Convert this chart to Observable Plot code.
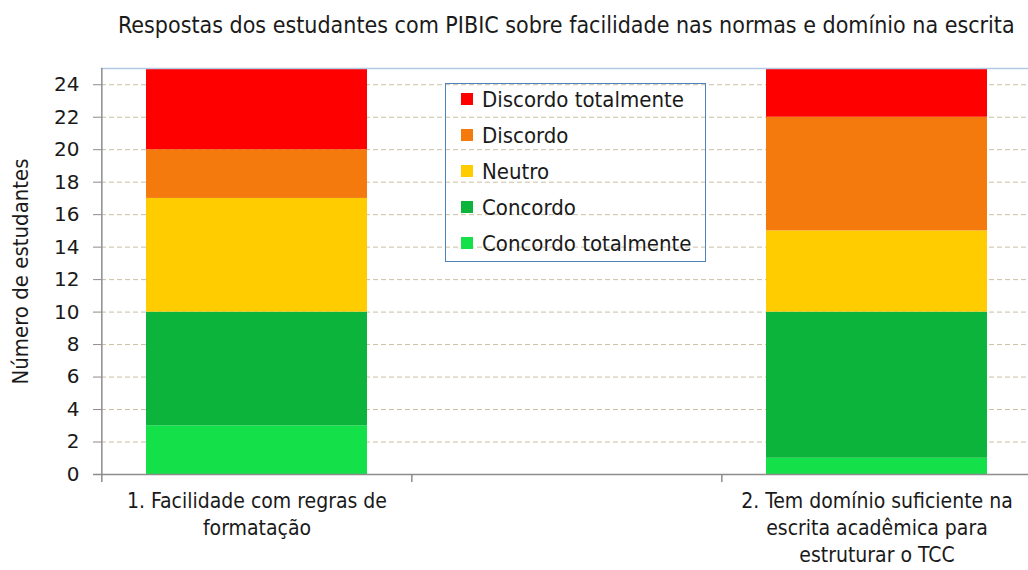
<!DOCTYPE html>
<html>
<head>
<meta charset="utf-8">
<script src="https://cdn.jsdelivr.net/npm/d3@7"></script>
<script src="https://cdn.jsdelivr.net/npm/@observablehq/plot@0.6"></script>
<style>
  html, body { margin: 0; padding: 0; background: #fff; overflow: hidden; }
  #wrap { position: relative; width: 1028px; height: 570px; overflow: hidden; font-family: "DejaVu Sans Condensed", "DejaVu Sans", sans-serif; color: #1a1a1a; }
  #title { height: 50px; position: relative; }
  #title span { position: absolute; left: 118px; top: 12px; font-size: 23px; white-space: nowrap; }
  #chart svg { max-width: none !important; }
  #legend { position: absolute; left: 445px; top: 83px; width: 259px; height: 177px; border: 1px solid #4f81bd; box-sizing: content-box; }
  .item { position: absolute; left: 15px; height: 28px; display: flex; align-items: center; font-size: 22px; white-space: nowrap; }
  .sw { width: 12px; height: 12px; margin-right: 9px; }
</style>
</head>
<body>
<div id="wrap">
  <div id="title"><span>Respostas dos estudantes com PIBIC sobre facilidade nas normas e domínio na escrita</span></div>
  <div id="chart"></div>
  <div id="legend"></div>
</div>
<script>
// categories (middle slot empty, as in the reference)
const categories = [
  "1. Facilidade com regras de\nformatação",
  "",
  "2. Tem domínio suficiente na\nescrita acadêmica para\nestruturar o TCC"
];
const barCategories = [categories[0], categories[2]];
// response levels, bottom to top of the stack
const levels = ["Concordo totalmente", "Concordo", "Neutro", "Discordo", "Discordo totalmente"];
const levelColors = ["#14e14a", "#0db43c", "#ffcc00", "#f47a0e", "#ff0000"];
// counts per level for each bar category
const concordoTotalmente = [3, 1];
const concordo = [7, 9];
const neutro = [7, 5];
const discordo = [3, 7];
const discordoTotalmente = [5, 3];
const yTicks = [0, 2, 4, 6, 8, 10, 12, 14, 16, 18, 20, 22, 24];
const yDomain = [0, 25];

const series = [concordoTotalmente, concordo, neutro, discordo, discordoTotalmente];
const data = [];
barCategories.forEach((c, i) => {
  levels.forEach((l, j) => data.push({category: c, level: l, value: series[j][i]}));
});

const W = 1040, ML = 101, MR = 8;
const padInner = 0.288, padOuter = 0.144;
const step = (W - ML - MR) / (categories.length - padInner + 2 * padOuter);

const font = '"DejaVu Sans Condensed", "DejaVu Sans", sans-serif';

const plot = Plot.plot({
  width: W,
  height: 520,
  marginLeft: ML,
  marginRight: MR,
  marginTop: 18,
  marginBottom: 96,
  style: {fontFamily: font, fontSize: "22px", color: "#1a1a1a", background: "transparent", overflow: "visible"},
  x: {type: "band", domain: categories, paddingInner: padInner, paddingOuter: padOuter, label: null},
  y: {domain: yDomain, label: null},
  color: {domain: levels, range: levelColors},
  marks: [
    Plot.gridY(yTicks, {stroke: "#c9bfa3", strokeOpacity: 1, strokeDasharray: "5,3"}),
    Plot.barY(data, {x: "category", y: "value", fill: "level", order: levels}),
    Plot.frame({anchor: "top", stroke: "#b4c9e6", strokeWidth: 1.5}),
    Plot.ruleX([categories[0]], {dx: -step / 2, stroke: "#8c8c8c", strokeWidth: 1.5}),
    Plot.ruleY([0], {stroke: "#8c8c8c", strokeWidth: 1.5, insetLeft: -8}),
    Plot.ruleX(categories, {x: d => d, y1: 0, y2: 0, dx: -step / 2, insetBottom: -8, stroke: "#8c8c8c", strokeWidth: 1.5}),
    Plot.axisY({ticks: yTicks, tickSize: 8, tickPadding: 14, stroke: "#8c8c8c", fontSize: 20, fontFamily: '"DejaVu Sans", sans-serif', fill: "#1a1a1a", label: null}),
    Plot.axisX({tickSize: 0, tickPadding: 15, lineHeight: 1.27, fontSize: 21, fill: "#1a1a1a", label: null}),
    Plot.text(["Número de estudantes"], {frameAnchor: "left", dx: -81, rotate: -90, textAnchor: "middle", fontSize: 22, fill: "#1a1a1a", style: "letter-spacing:0.4px;word-spacing:3px"})
  ]
});
document.getElementById("chart").appendChild(plot);

// legend (top to bottom = reverse of stack order)
const legend = document.getElementById("legend");
const rev = levels.map((l, i) => [l, levelColors[i]]).reverse();
rev.forEach(([l, c], i) => {
  const d = document.createElement("div");
  d.className = "item";
  d.style.top = (1 + i * 36) + "px";
  d.innerHTML = `<span class="sw" style="background:${c}"></span><span>${l}</span>`;
  legend.appendChild(d);
});
</script>
</body>
</html>
